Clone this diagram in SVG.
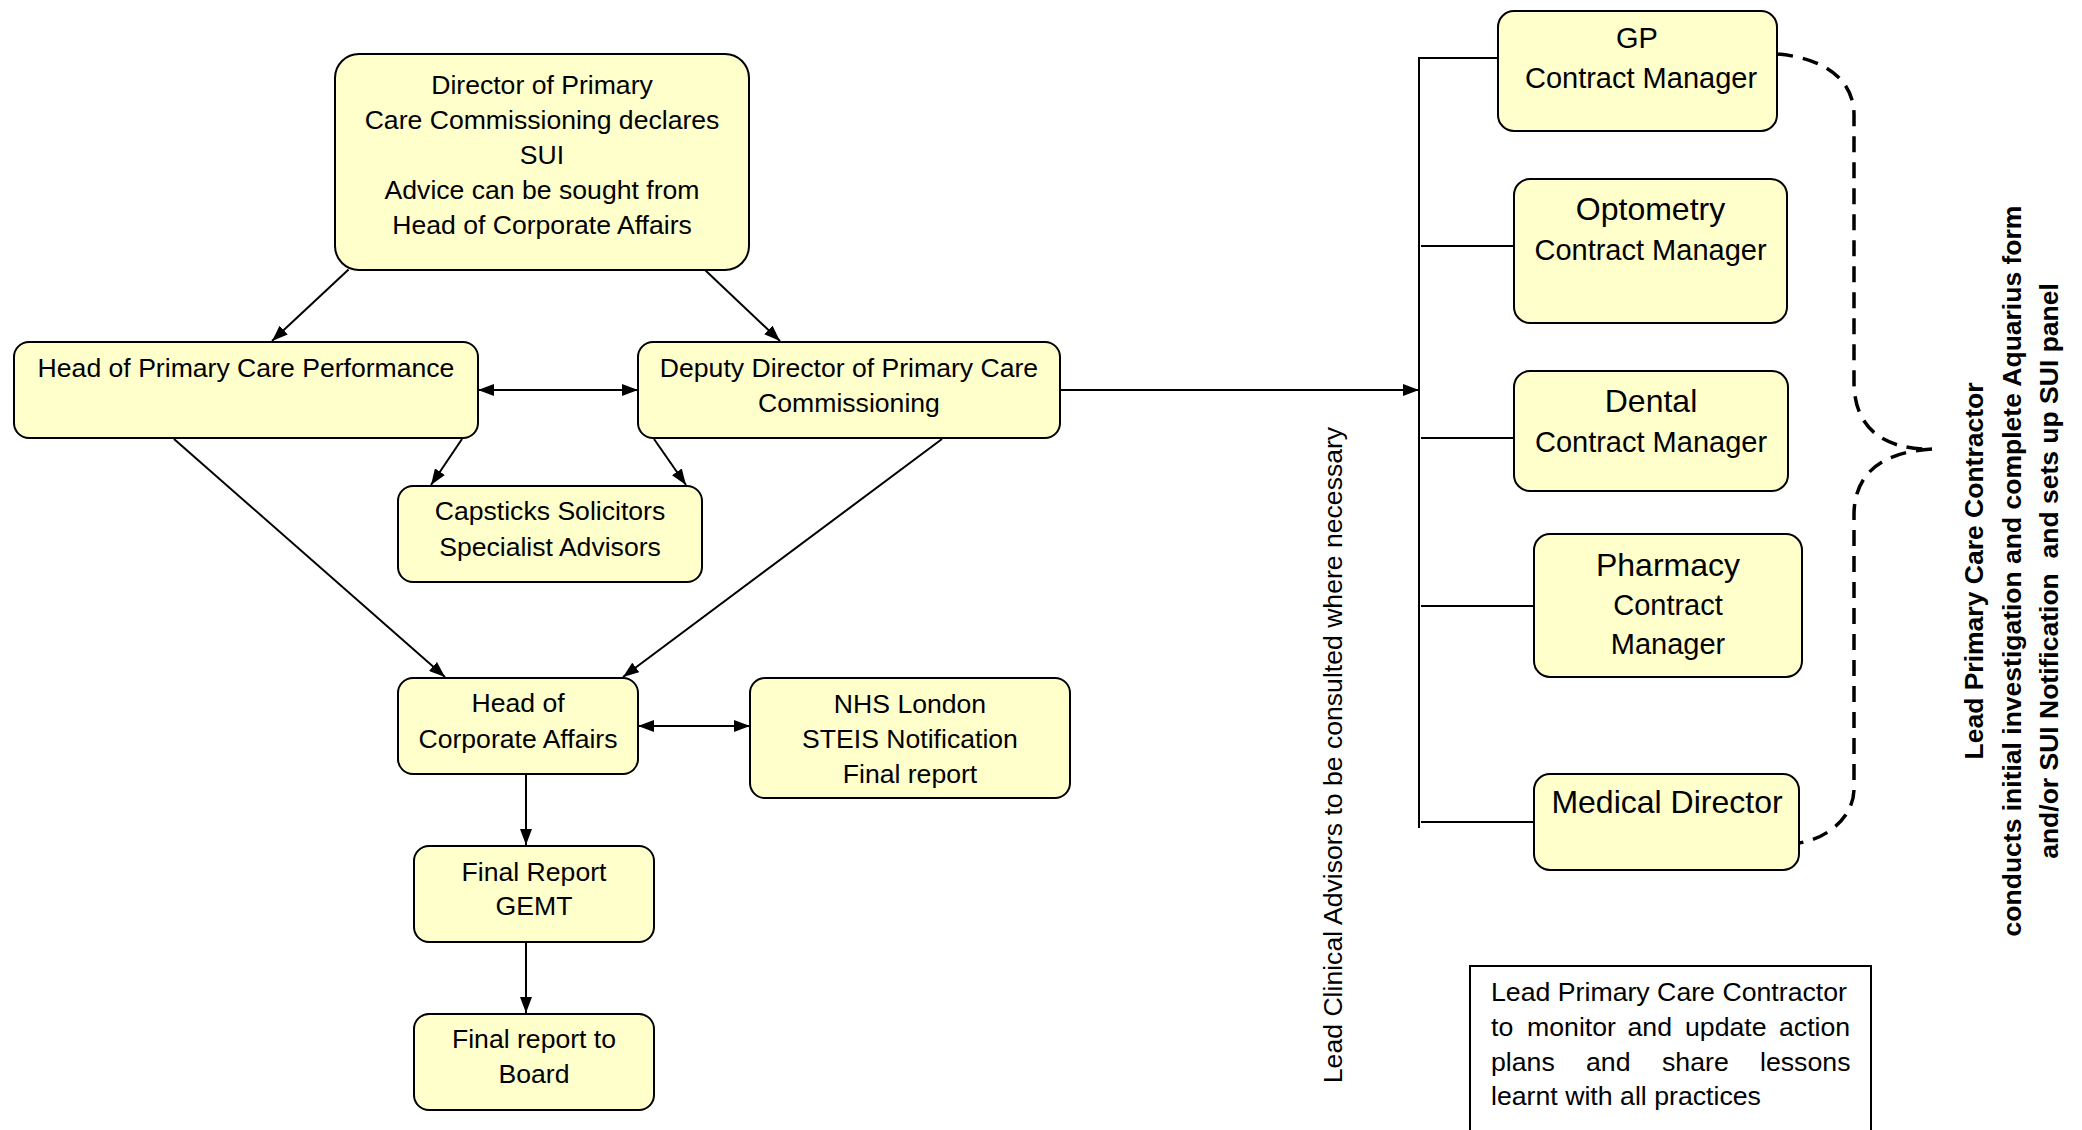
<svg xmlns="http://www.w3.org/2000/svg" width="2082" height="1130" viewBox="0 0 2082 1130">
<style>
.box{fill:#FFFFCC;stroke:#000;stroke-width:2}
.t{font-family:"Liberation Sans",Arial,sans-serif;font-size:26.6px;fill:#000;text-anchor:middle}
.r{font-family:"Liberation Sans",Arial,sans-serif;font-size:29px;fill:#000;text-anchor:middle}
.rb{font-family:"Liberation Sans",Arial,sans-serif;font-size:32px;fill:#000;text-anchor:middle}
.b{font-family:"Liberation Sans",Arial,sans-serif;font-size:26.5px;font-weight:bold;fill:#000;text-anchor:middle}
.n{font-family:"Liberation Sans",Arial,sans-serif;font-size:26.7px;fill:#000}
.c{fill:none;stroke:#000;stroke-width:2}
.a{marker-end:url(#ah)}
.d{marker-start:url(#ah);marker-end:url(#ah)}
.dash{fill:none;stroke:#000;stroke-width:3.5;stroke-dasharray:16 10}
</style>
<defs>
<marker id="ah" viewBox="0 0 16 12" refX="16" refY="6" markerWidth="16" markerHeight="12" markerUnits="userSpaceOnUse" orient="auto-start-reverse"><path d="M0,0 L16,6 L0,12 z" fill="#000"/></marker>
</defs>
<rect width="2082" height="1130" fill="#fff"/>

<g id="connectors">
<path class="c a" d="M348.6,269.6 L272,341"/>
<path class="c a" d="M705,270 L780,341"/>
<path class="c d" d="M478,390 L638,390"/>
<path class="c a" d="M462,439 L431,485"/>
<path class="c a" d="M654,439 L686,485"/>
<path class="c a" d="M174,439 L445,677"/>
<path class="c a" d="M942,439 L623,677"/>
<path class="c d" d="M638,726 L750,726"/>
<path class="c a" d="M526,774 L526,845"/>
<path class="c a" d="M526,942 L526,1013"/>
<path class="c a" d="M1054,390 L1419,390"/>
<path class="c" d="M1498,58 L1419,58 L1419,828"/>
<path class="c" d="M1421,246 L1519,246"/>
<path class="c" d="M1421,438 L1514,438"/>
<path class="c" d="M1421,606 L1534,606"/>
<path class="c" d="M1421,822 L1534,822"/>
<path class="dash" d="M1777,54 C1825,58 1854,80 1854,115 L1854,382 C1854,425 1880,450 1932,449"/>
<path class="dash" d="M1932,449 C1880,452 1854,475 1854,515 L1854,789 C1854,815 1830,838 1799,843"/>
</g>

<g id="director">
<rect class="box" x="335" y="54" width="414" height="216" rx="24"/>
<text class="t" x="542" y="93.6">Director of Primary</text>
<text class="t" x="542" y="128.5">Care Commissioning declares</text>
<text class="t" x="542" y="163.5">SUI</text>
<text class="t" x="542" y="198.5">Advice can be sought from</text>
<text class="t" x="542" y="233.5">Head of Corporate Affairs</text>
</g>

<g id="hpcp">
<rect class="box" x="14" y="342" width="464" height="96" rx="15"/>
<text class="t" x="246" y="377">Head of Primary Care Performance</text>
</g>

<g id="deputy">
<rect class="box" x="638" y="342" width="422" height="96" rx="15"/>
<text class="t" x="849" y="377">Deputy Director of Primary Care</text>
<text class="t" x="849" y="412">Commissioning</text>
</g>

<g id="capsticks">
<rect class="box" x="398" y="486" width="304" height="96" rx="15"/>
<text class="t" x="550" y="520">Capsticks Solicitors</text>
<text class="t" x="550" y="556">Specialist Advisors</text>
</g>

<g id="hca">
<rect class="box" x="398" y="678" width="240" height="96" rx="15"/>
<text class="t" x="518" y="712">Head of</text>
<text class="t" x="518" y="748">Corporate Affairs</text>
</g>

<g id="nhs">
<rect class="box" x="750" y="678" width="320" height="120" rx="15"/>
<text class="t" x="910" y="713">NHS London</text>
<text class="t" x="910" y="748">STEIS Notification</text>
<text class="t" x="910" y="782.5">Final report</text>
</g>

<g id="gemt">
<rect class="box" x="414" y="846" width="240" height="96" rx="15"/>
<text class="t" x="534" y="880.5">Final Report</text>
<text class="t" x="534" y="915">GEMT</text>
</g>

<g id="board">
<rect class="box" x="414" y="1014" width="240" height="96" rx="15"/>
<text class="t" x="534" y="1048">Final report to</text>
<text class="t" x="534" y="1083">Board</text>
</g>

<g id="gp">
<rect class="box" x="1498" y="11" width="279" height="120" rx="16"/>
<text class="r" x="1637" y="48">GP</text>
<text class="r" x="1641" y="87.5">Contract Manager</text>
</g>

<g id="optometry">
<rect class="box" x="1514" y="179" width="273" height="144" rx="16"/>
<text class="rb" x="1650.5" y="219.6">Optometry</text>
<text class="r" x="1650.5" y="260">Contract Manager</text>
</g>

<g id="dental">
<rect class="box" x="1514" y="371" width="274" height="120" rx="16"/>
<text class="rb" x="1651" y="411.8">Dental</text>
<text class="r" x="1651" y="451.8">Contract Manager</text>
</g>

<g id="pharmacy">
<rect class="box" x="1534" y="534" width="268" height="143" rx="16"/>
<text class="rb" x="1668" y="576">Pharmacy</text>
<text class="r" x="1668" y="615">Contract</text>
<text class="r" x="1668" y="654">Manager</text>
</g>

<g id="medical">
<rect class="box" x="1534" y="774" width="265" height="96" rx="16"/>
<text class="rb" x="1667" y="813">Medical Director</text>
</g>

<g id="lead-clinical">
<text class="t" transform="translate(1342,755) rotate(-90)">Lead Clinical Advisors to be consulted where necessary</text>
</g>

<g id="lead-contractor">
<text class="b" transform="translate(1983,571) rotate(-90)">Lead Primary Care Contractor</text>
<text class="b" transform="translate(2021,571) rotate(-90)">conducts initial investigation and complete Aquarius form</text>
<text class="b" transform="translate(2058,571) rotate(-90)">and/or SUI Notification&#160; and sets up SUI panel</text>
</g>

<g id="monitor-note">
<rect x="1470" y="966" width="401" height="170" fill="#fff" stroke="#000" stroke-width="2"/>
<text class="n" x="1491" y="1000.6">Lead Primary Care Contractor</text>
<text class="n" y="1036"><tspan x="1491">to</tspan><tspan x="1527">monitor</tspan><tspan x="1627.5">and</tspan><tspan x="1685">update</tspan><tspan x="1779">action</tspan></text>
<text class="n" y="1071"><tspan x="1491">plans</tspan><tspan x="1586">and</tspan><tspan x="1662">share</tspan><tspan x="1760">lessons</tspan></text>
<text class="n" x="1491" y="1105">learnt with all practices</text>
</g>
</svg>
